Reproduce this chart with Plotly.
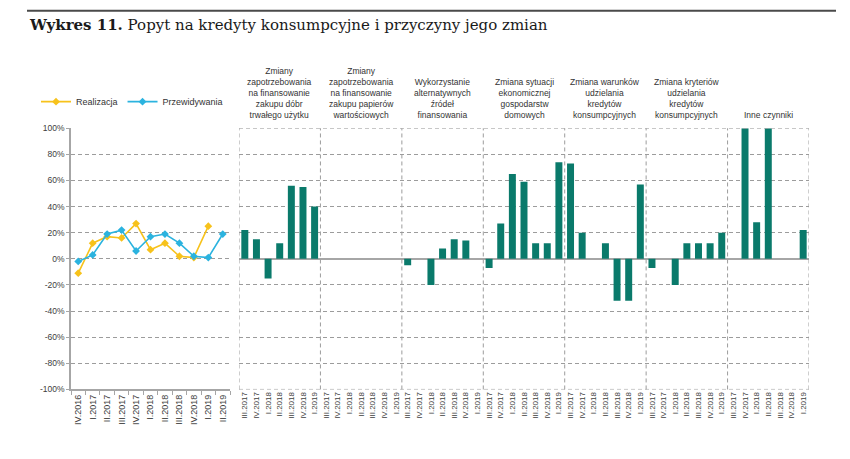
import plotly.graph_objects as go

# ---------------- data ----------------
line_quarters = ["IV.2016", "I.2017", "II.2017", "III.2017", "IV.2017", "I.2018",
                 "II.2018", "III.2018", "IV.2018", "I.2019", "II.2019"]
realizacja = [-11, 12, 17, 16, 27, 7, 12, 2, 1, 25, None]
przewidywania = [-2, 3, 19, 22, 6, 17, 19, 12, 2, 1, 19]

bar_quarters = ["III.2017", "IV.2017", "I.2018", "II.2018", "III.2018", "IV.2018", "I.2019"]

panel_titles = [
    "Zmiany<br>zapotrzebowania<br>na finansowanie<br>zakupu dóbr<br>trwałego użytku",
    "Zmiany<br>zapotrzebowania<br>na finansowanie<br>zakupu papierów<br>wartościowych",
    "Wykorzystanie<br>alternatywnych<br>źródeł<br>finansowania",
    "Zmiana sytuacji<br>ekonomicznej<br>gospodarstw<br>domowych",
    "Zmiana warunków<br>udzielania<br>kredytów<br>konsumpcyjnych",
    "Zmiana kryteriów<br>udzielania<br>kredytów<br>konsumpcyjnych",
    "Inne czynniki",
]
dobra_trwale = [22, 15, -15, 12, 56, 55, 40]
papiery = [0, 0, 0, 0, 0, 0, 0]
alternatywne = [-5, 0, -20, 8, 15, 14, 0]
sytuacja_gd = [-7, 27, 65, 59, 12, 12, 74]
warunki = [73, 20, 0, 12, -32, -32, 57]
kryteria = [-7, 0, -20, 12, 12, 12, 20]
inne = [0, 100, 28, 100, 0, 0, 22]
panels = [dobra_trwale, papiery, alternatywne, sytuacja_gd, warunki, kryteria, inne]

y_ticks = list(range(-100, 101, 20))

# ---------------- layout helpers ----------------
W, H = 850, 459
def px_x(p): return p / W
def px_y(p): return 1 - p / H

YELLOW = "#F7C21B"
BLUE = "#2BB3DF"
TEAL = "#0A7A6B"
GRID = "#9C9C9C"
AXIS = "#A6A6A6"
FONT = "Liberation Sans"
DASH = "4px,3px"

n_per = len(bar_quarters)
bar_x = []
bar_y = []
for k, vals in enumerate(panels):
    for i, v in enumerate(vals):
        bar_x.append(k * n_per + i)
        bar_y.append(v)
bar_text = bar_quarters * len(panels)

fig = go.Figure()
fig.add_trace(go.Scatter(x=line_quarters, y=realizacja, name="Realizacja",
                         mode="lines+markers", line=dict(color=YELLOW, width=1.6),
                         marker=dict(symbol="diamond", size=6, color=YELLOW),
                         xaxis="x", yaxis="y"))
fig.add_trace(go.Scatter(x=line_quarters, y=przewidywania, name="Przewidywania",
                         mode="lines+markers", line=dict(color=BLUE, width=1.6),
                         marker=dict(symbol="diamond", size=6, color=BLUE),
                         xaxis="x", yaxis="y"))
fig.add_trace(go.Bar(x=bar_x, y=bar_y, marker=dict(color=TEAL, line=dict(width=0)),
                     showlegend=False, xaxis="x2", yaxis="y2"))

ydom = [px_y(393), px_y(126)]

fig.update_layout(
    width=W, height=H,
    margin=dict(l=0, r=0, t=0, b=0),
    paper_bgcolor="white", plot_bgcolor="white",
    font=dict(family=FONT, size=9, color="#333333"),
    bargap=0.4,
    xaxis=dict(domain=[px_x(71), px_x(230)], type="category",
               range=[-0.5, len(line_quarters) - 0.5],
               showline=True, linecolor=AXIS, linewidth=1.5,
               ticks="outside", tickson="boundaries", ticklen=4, tickcolor=AXIS,
               tickangle=-90, tickfont=dict(size=9, color="#404040"),
               showgrid=False, anchor="y"),
    yaxis=dict(domain=ydom, range=[-100, 100], tickvals=y_ticks,
               ticktext=[f"{v}%" for v in y_ticks],
               showline=True, linecolor=AXIS, linewidth=1.5,
               ticks="outside", ticklen=3, tickcolor=AXIS,
               tickfont=dict(size=8.5, color="#404040"),
               showgrid=True, gridcolor=GRID, griddash=DASH, gridwidth=1,
               zeroline=False, anchor="x"),
    xaxis2=dict(domain=[px_x(239), px_x(809)], range=[-0.5, len(bar_x) - 0.5],
                tickvals=bar_x, ticktext=bar_text, tickangle=-90,
                tickfont=dict(size=8, color="#404040"),
                showgrid=False, zeroline=False, showline=False, ticks="",
                anchor="y2"),
    yaxis2=dict(domain=ydom, range=[-100, 100], tickvals=y_ticks,
                showticklabels=False, showgrid=True, gridcolor=GRID,
                griddash=DASH, gridwidth=1,
                zeroline=True, zerolinecolor=AXIS, zerolinewidth=2,
                anchor="x2"),
    legend=dict(orientation="h", x=px_x(36), y=px_y(84), xanchor="left",
                yanchor="top", font=dict(size=9, color="#333333"),
                bgcolor="rgba(0,0,0,0)", itemwidth=30),
)

shapes = []
# panel separators and border of the bar area
for k in range(len(panels) + 1):
    xb = k * n_per - 0.5
    shapes.append(dict(type="line", xref="x2", yref="y2 domain", x0=xb, x1=xb,
                       y0=0, y1=1, line=dict(color=GRID, width=1, dash=DASH)))
shapes.append(dict(type="line", xref="x2 domain", yref="y2", x0=0, x1=1,
                   y0=100, y1=100, line=dict(color=GRID, width=1, dash=DASH)))
shapes.append(dict(type="line", xref="x2 domain", yref="y2", x0=0, x1=1,
                   y0=-100, y1=-100, line=dict(color=GRID, width=1, dash=DASH)))
# rule above title
shapes.append(dict(type="line", xref="paper", yref="paper", x0=px_x(27), x1=px_x(836),
                   y0=px_y(6), y1=px_y(6), line=dict(color="#4a4a4a", width=2)))
fig.update_layout(shapes=shapes)

annotations = [dict(
    xref="paper", yref="paper", x=px_x(27), y=px_y(20), xanchor="left", yanchor="middle",
    text="<b>Wykres 11.</b> Popyt na kredyty konsumpcyjne i przyczyny jego zmian",
    showarrow=False, font=dict(family="DejaVu Serif", size=15, color="#1a1a1a"))]
for k, t in enumerate(panel_titles):
    annotations.append(dict(
        xref="x2", yref="paper", x=k * n_per + (n_per - 1) / 2, y=px_y(120),
        xanchor="center", yanchor="bottom", text=t, showarrow=False, align="center",
        font=dict(family=FONT, size=8.5, color="#333333")))
fig.update_layout(annotations=annotations)

fig.write_html("out.html", config={"displayModeBar": False},
               post_script="document.body.style.margin='0px';document.body.style.overflow='hidden';")
